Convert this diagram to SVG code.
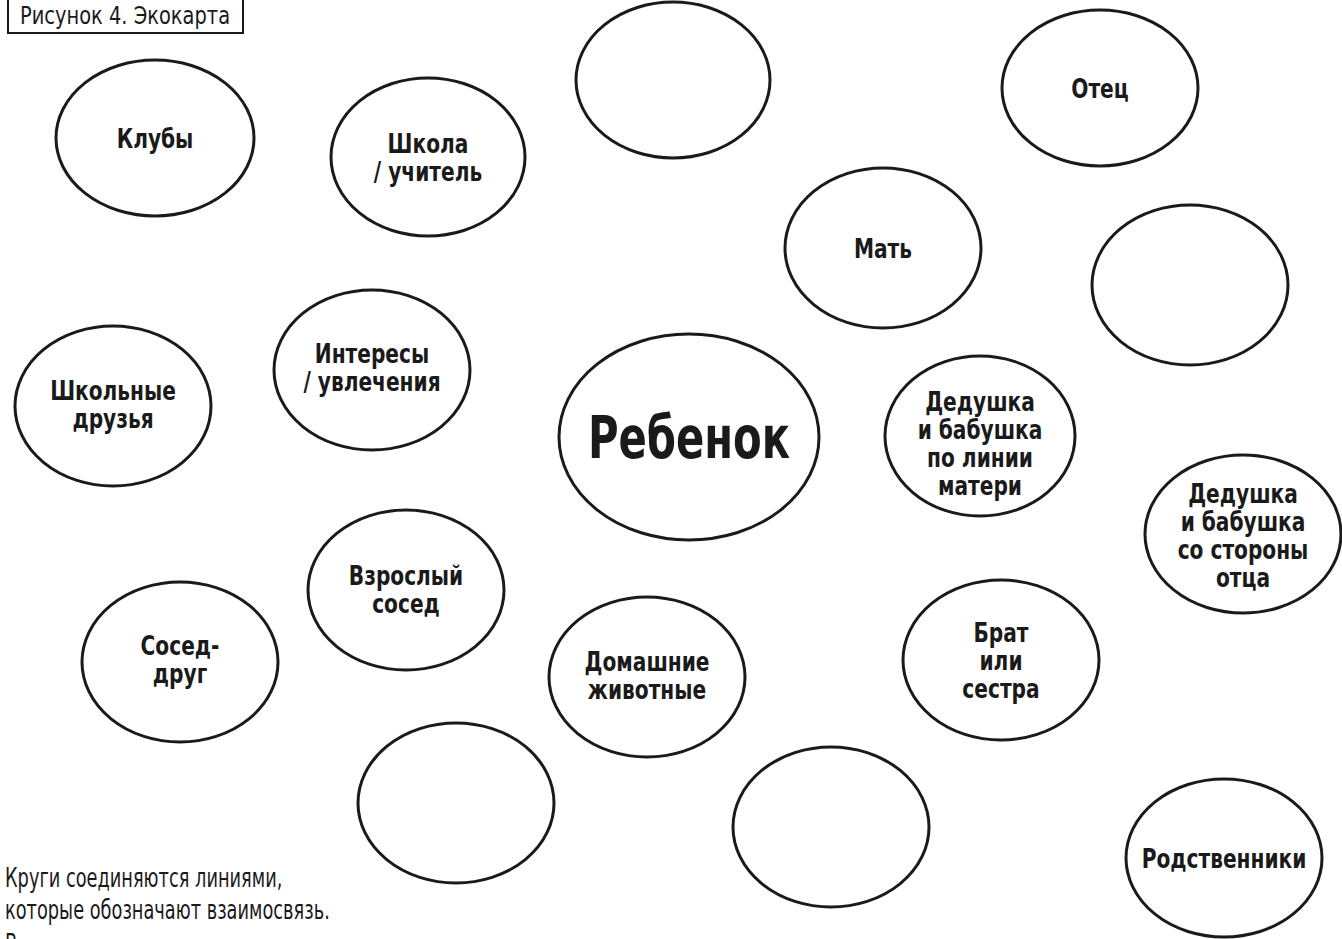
<svg xmlns="http://www.w3.org/2000/svg" width="1342" height="939" viewBox="0 0 1342 939">
<style>
.n{fill:#fff;stroke:#1a1a1a;stroke-width:3}
.t{font-family:"DejaVu Sans Condensed","DejaVu Sans",sans-serif;font-stretch:condensed;font-weight:bold;font-size:27px;fill:#1a1a1a;text-anchor:middle}
.p{font-family:"DejaVu Sans Condensed","DejaVu Sans",sans-serif;font-stretch:condensed;font-size:26px;fill:#1a1a1a}
.big{font-size:58px}
.ttl{font-size:24px;text-anchor:middle}
</style>
<rect width="1342" height="939" fill="#fff"/>
<g id="title"><rect x="8" y="-5" width="235" height="38" fill="#fff" stroke="#1a1a1a" stroke-width="2"/><text class="p ttl" transform="translate(125,24) scale(0.9,1)">Рисунок 4. Экокарта</text></g>
<g id="connectors"></g>
<g id="n-clubs"><ellipse class="n" cx="155" cy="138" rx="99" ry="78"/><text class="t" transform="translate(155,148) scale(0.83,1)">Клубы</text></g>
<g id="n-school"><ellipse class="n" cx="428" cy="157" rx="97" ry="79"/><text class="t" transform="translate(428,153) scale(0.83,1)">Школа</text><text class="t" transform="translate(428,181) scale(0.83,1)">/ учитель</text></g>
<g id="n-empty1"><ellipse class="n" cx="673" cy="80" rx="97" ry="78"/></g>
<g id="n-father"><ellipse class="n" cx="1100" cy="88" rx="98" ry="78"/><text class="t" transform="translate(1100,98) scale(0.83,1)">Отец</text></g>
<g id="n-mother"><ellipse class="n" cx="883" cy="248" rx="98" ry="80"/><text class="t" transform="translate(883,258) scale(0.83,1)">Мать</text></g>
<g id="n-empty2"><ellipse class="n" cx="1190" cy="285" rx="98" ry="80"/></g>
<g id="n-interests"><ellipse class="n" cx="372" cy="370" rx="98" ry="80"/><text class="t" transform="translate(372,363) scale(0.83,1)">Интересы</text><text class="t" transform="translate(372,391) scale(0.83,1)">/ увлечения</text></g>
<g id="n-friends"><ellipse class="n" cx="113" cy="406" rx="98" ry="80"/><text class="t" transform="translate(113,400) scale(0.83,1)">Школьные</text><text class="t" transform="translate(113,428) scale(0.83,1)">друзья</text></g>
<g id="n-child"><ellipse class="n" cx="689" cy="437" rx="130" ry="103"/><text class="t big" transform="translate(689,458) scale(0.8,1)">Ребенок</text></g>
<g id="n-gpm"><ellipse class="n" cx="980" cy="436" rx="95" ry="80"/><text class="t" transform="translate(980,411) scale(0.83,1)">Дедушка</text><text class="t" transform="translate(980,439) scale(0.83,1)">и бабушка</text><text class="t" transform="translate(980,467) scale(0.83,1)">по линии</text><text class="t" transform="translate(980,495) scale(0.83,1)">матери</text></g>
<g id="n-gpf"><ellipse class="n" cx="1243" cy="534" rx="98" ry="79"/><text class="t" transform="translate(1243,503) scale(0.83,1)">Дедушка</text><text class="t" transform="translate(1243,531) scale(0.83,1)">и бабушка</text><text class="t" transform="translate(1243,559) scale(0.83,1)">со стороны</text><text class="t" transform="translate(1243,587) scale(0.83,1)">отца</text></g>
<g id="n-adult"><ellipse class="n" cx="406" cy="590" rx="98" ry="80"/><text class="t" transform="translate(406,585) scale(0.83,1)">Взрослый</text><text class="t" transform="translate(406,613) scale(0.83,1)">сосед</text></g>
<g id="n-neighbor"><ellipse class="n" cx="180" cy="662" rx="98" ry="80"/><text class="t" transform="translate(180,655) scale(0.83,1)">Сосед-</text><text class="t" transform="translate(180,683) scale(0.83,1)">друг</text></g>
<g id="n-pets"><ellipse class="n" cx="647" cy="677" rx="98" ry="80"/><text class="t" transform="translate(647,671) scale(0.83,1)">Домашние</text><text class="t" transform="translate(647,699) scale(0.83,1)">животные</text></g>
<g id="n-sibling"><ellipse class="n" cx="1001" cy="660" rx="98" ry="80"/><text class="t" transform="translate(1001,642) scale(0.83,1)">Брат</text><text class="t" transform="translate(1001,670) scale(0.83,1)">или</text><text class="t" transform="translate(1001,698) scale(0.83,1)">сестра</text></g>
<g id="n-empty3"><ellipse class="n" cx="456" cy="803" rx="98" ry="80"/></g>
<g id="n-empty4"><ellipse class="n" cx="831" cy="827" rx="98" ry="80"/></g>
<g id="n-relatives"><ellipse class="n" cx="1224" cy="858" rx="98" ry="79"/><text class="t" transform="translate(1224,868) scale(0.83,1)">Родственники</text></g>
<g id="note"><text class="p" transform="translate(5,887) scale(0.76,1)">Круги соединяются линиями,</text><text class="p" transform="translate(5,919) scale(0.76,1)">которые обозначают взаимосвязь.</text><text class="p" transform="translate(5,953) scale(0.76,1)">В</text></g>
</svg>
